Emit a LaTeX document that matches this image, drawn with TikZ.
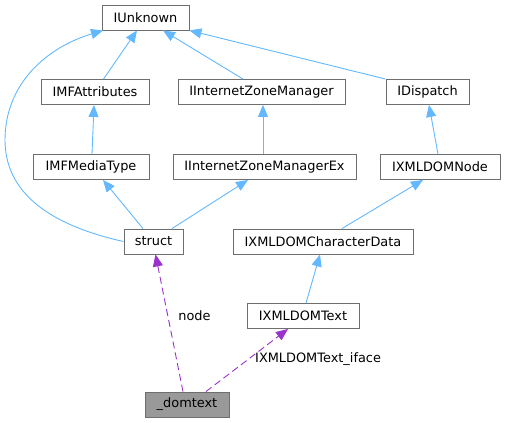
\documentclass[tikz,border=0pt]{standalone}
\usepackage{fontspec}
\setmainfont{DejaVu Sans}
\usetikzlibrary{arrows.meta}
\definecolor{edgeblue}{HTML}{63B8FF}
\definecolor{edgepurple}{HTML}{9A32CD}
\definecolor{boxgray}{HTML}{6E6E6E}
\begin{document}
\begin{tikzpicture}[x=1pt,y=-1pt,
  cls/.style={draw=boxgray, line width=0.9pt, fill=white, minimum height=25pt, inner sep=0pt, font=\fontsize{12.9}{15}\selectfont},
  cur/.style={cls, fill=black!40},
  inh/.style={draw=edgeblue, line width=0.9pt, -{Triangle[length=12pt,width=10pt]}},
  use/.style={draw=edgepurple, line width=0.9pt, dash pattern=on 7pt off 4pt, -{Triangle[length=12pt,width=10pt]}},
  lbl/.style={font=\fontsize{12.9}{15}\selectfont, inner sep=0pt}]
\useasboundingbox (0,0) rectangle (506,423);
\node[cls, minimum width=87pt]  (iunk) at (145.5,17.5) {IUnknown};
\node[cls, minimum width=108pt] (mfattr) at (95,92) {IMFAttributes};
\node[cls, minimum width=167pt] (izm) at (261.5,92) {IInternetZoneManager};
\node[cls, minimum width=83pt]  (idisp) at (427.5,92) {IDispatch};
\node[cls, minimum width=116pt] (mfmt) at (91,167) {IMFMediaType};
\node[cls, minimum width=183pt] (izmex) at (264.5,167) {IInternetZoneManagerEx};
\node[cls, minimum width=120pt] (xnode) at (440,167) {IXMLDOMNode};
\node[cls, minimum width=59pt]  (struct) at (153.5,241.5) {struct};
\node[cls, minimum width=180pt] (chardata) at (323,241.5) {IXMLDOMCharacterData};
\node[cls, minimum width=112pt] (xtext) at (303,316) {IXMLDOMText};
\node[cur, minimum width=84pt]  (dom) at (187,404.5) {\_domtext};

\draw[inh] ([xshift=8.5pt]mfattr.north) -- ([xshift=-8.5pt]iunk.south);
\draw[inh] ([xshift=-18.5pt]izm.north) -- ([xshift=17.5pt]iunk.south);
\draw[inh] (idisp.north west) -- ([xshift=0pt]iunk.south east);
\coordinate (bend) at (5,140);
\draw[inh] (struct.west) .. controls (45,224) and (5,190) .. (bend) .. controls (5,85) and (45,48) .. ([xshift=-42.5pt]iunk.south);
\draw[inh] ([xshift=1pt]mfmt.north) -- ([xshift=-1pt]mfattr.south);
\draw[inh] ([xshift=-1.5pt]izmex.north) -- ([xshift=1.5pt]izm.south);
\draw[inh] ([xshift=-2pt]xnode.north) -- ([xshift=1.5pt]idisp.south);
\draw[inh] ([xshift=-10.5pt]struct.north) -- ([xshift=12pt]mfmt.south);
\draw[inh] ([xshift=18.5pt]struct.north) -- ([xshift=-16.5pt]izmex.south);
\draw[inh] ([xshift=19pt]chardata.north) -- ([xshift=-17pt]xnode.south);
\draw[inh] ([xshift=3pt]xtext.north) -- ([xshift=-3pt]chardata.south);
\draw[use] ([xshift=-4pt]dom.north) -- node[lbl, pos=0.55, right=10pt] (lnode) {node} ([xshift=2pt]struct.south);
\draw[use] ([xshift=19pt]dom.north) -- ([xshift=-15pt]xtext.south);
\node[lbl, anchor=west] (liface) at (255,359) {IXMLDOMText\_iface};
\end{tikzpicture}
\end{document}
